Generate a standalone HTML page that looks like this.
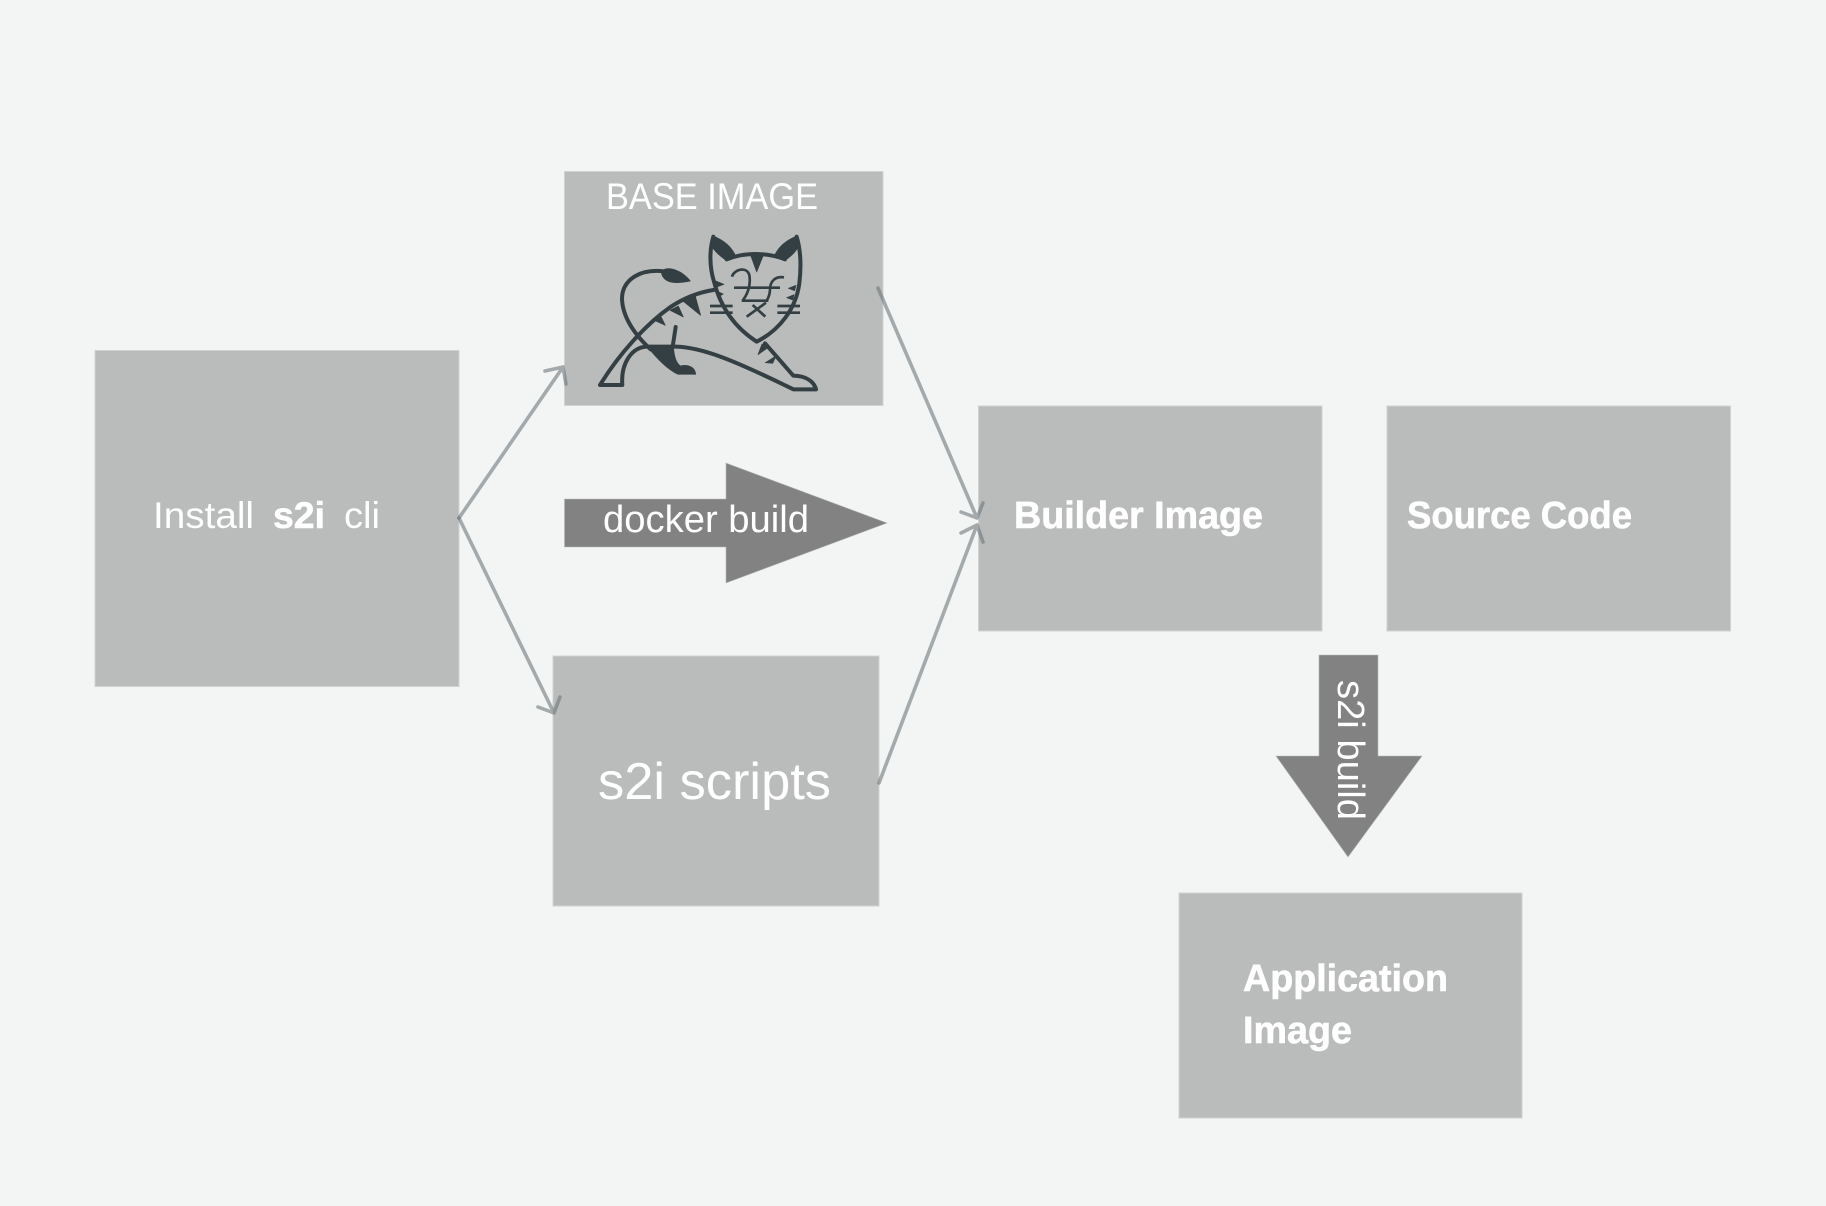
<!DOCTYPE html>
<html>
<head>
<meta charset="utf-8">
<style>
html,body{margin:0;padding:0;background:#f3f5f4;}
svg{display:block;}
text{font-family:"Liberation Sans",sans-serif;fill:#fff;}
.b{font-weight:bold;stroke:#fff;stroke-width:.6px;}
.box{fill:#babcbb;stroke:#cfd2d1;stroke-width:1;}
.ln{fill:none;stroke:#6f787c;stroke-opacity:.6;stroke-width:3.6;stroke-linecap:round;stroke-linejoin:round;}
.c{fill:none;stroke:#343f43;stroke-width:12;stroke-linecap:round;stroke-linejoin:round;}
.s{stroke-width:8;stroke-linecap:butt;}
.f{fill:#343f43;stroke:#343f43;stroke-width:2;stroke-linejoin:round;}
</style>
</head>
<body>
<svg width="1826" height="1206" viewBox="0 0 1826 1206" xmlns="http://www.w3.org/2000/svg">
<rect x="0" y="0" width="1826" height="1206" fill="#f3f5f4"/>

<rect class="box" x="95" y="350.5" width="364" height="336"/>
<rect class="box" x="564.5" y="171.5" width="318.5" height="234"/>
<rect class="box" x="553" y="656" width="326" height="250"/>
<rect class="box" x="978.5" y="406" width="343.5" height="225"/>
<rect class="box" x="1387" y="406" width="343.5" height="225"/>
<rect class="box" x="1179" y="893" width="343" height="225"/>

<polygon points="564.5,499 726,499 726,463 887,523 726,583 726,547 564.5,547" fill="#828282" stroke="#b5b7b6" stroke-width=".6"/>
<polygon points="1319,655 1378,655 1378,756 1422,756 1348,857 1276,756 1319,756" fill="#828282" stroke="#b5b7b6" stroke-width=".6"/>

<path class="ln" d="M459,518 L563,367 M545,371 L563,367 L566,384"/>
<path class="ln" d="M459,518 L554,713 M538,707 L554,713 L560,697"/>
<path class="ln" d="M878,288 L977,518 M961,512 L977,518 L983,503"/>
<path class="ln" d="M879,783 L977,525 M961,533 L977,525 L983,542"/>

<text x="606" y="209" font-size="37" textLength="212" lengthAdjust="spacingAndGlyphs">BASE IMAGE</text>
<text x="153" y="528" font-size="37" textLength="101" lengthAdjust="spacingAndGlyphs">Install</text>
<text class="b" x="273" y="528" font-size="37" textLength="52" lengthAdjust="spacingAndGlyphs">s2i</text>
<text x="344" y="528" font-size="37" textLength="36" lengthAdjust="spacingAndGlyphs">cli</text>
<text x="603" y="532" font-size="38" textLength="206" lengthAdjust="spacingAndGlyphs">docker build</text>
<text x="598" y="799" font-size="52" textLength="233" lengthAdjust="spacingAndGlyphs">s2i scripts</text>
<text class="b" x="1014" y="528" font-size="38" textLength="249" lengthAdjust="spacingAndGlyphs">Builder Image</text>
<text class="b" x="1407" y="528" font-size="38" textLength="225" lengthAdjust="spacingAndGlyphs">Source Code</text>
<text class="b" x="1243" y="991" font-size="38" textLength="205" lengthAdjust="spacingAndGlyphs">Application</text>
<text class="b" x="1243" y="1043" font-size="38" textLength="109" lengthAdjust="spacingAndGlyphs">Image</text>
<text transform="translate(1338,680) rotate(90)" font-size="38" textLength="140" lengthAdjust="spacingAndGlyphs">s2i build</text>

<g transform="translate(590,230) scale(.33333)">
  <path class="f" d="M370,18 C400,30 425,50 437,78 L410,92 C392,80 375,65 366,50 Z"/>
  <path class="f" d="M620,18 C590,30 565,50 553,78 L584,92 C602,80 618,65 625,50 Z"/>
  <path class="c" d="M370,20 C358,60 358,110 372,155 C390,225 430,290 500,335 C570,300 618,235 628,160 C634,110 632,60 620,20"/>
  <path class="c" d="M410,88 C440,76 470,72 495,72 C525,72 560,78 585,88"/>
  <path class="f" d="M482,76 L520,76 L500,126 Z"/>
  <path class="c s" d="M426,140 C432,118 470,108 478,135 C482,160 478,185 458,212 M582,142 C555,138 540,155 540,178 C540,190 536,202 530,212"/>
  <path class="c s" d="M432,173 L570,173 M455,212 L535,212 M470,260 L528,218 M488,225 L526,260"/>
  <path class="c s" d="M360,228 L428,228 M360,248 L428,248 M562,228 L630,228 M562,248 L630,248"/>
  <path class="f" d="M375,152 L402,163 L383,170 Z M382,184 L400,192 L386,200 Z M618,166 L595,175 L614,182 Z M612,194 L590,203 L608,210 Z"/>
  <path class="c" d="M370,180 C320,188 280,205 240,232 C165,285 85,375 30,465 L97,465 C92,400 125,352 170,350 L258,350 C340,352 440,395 610,478 L678,478 C672,455 650,438 610,437 L525,340"/>
  <path class="f" d="M315,195 L332,256 L280,214 Z M265,228 L280,261 L240,241 Z M212,258 L226,286 L190,270 Z"/>
  <path class="c" d="M222,124 C150,115 97,150 96,205 C97,265 140,320 182,358"/>
  <path class="f" d="M214,128 C222,105 270,115 301,153 C265,160 222,165 214,128 Z"/>
  <path class="f" d="M172,350 L250,346 C252,380 258,400 272,408 C295,402 316,412 317,433 L264,433 C235,420 200,385 172,350 Z"/>
  <path class="c" d="M257,291 L248,350"/>
  <path class="f" d="M516,342 L538,350 L504,374 Z M558,378 L526,398 L548,400 Z"/>
</g>
</svg>
</body>
</html>
